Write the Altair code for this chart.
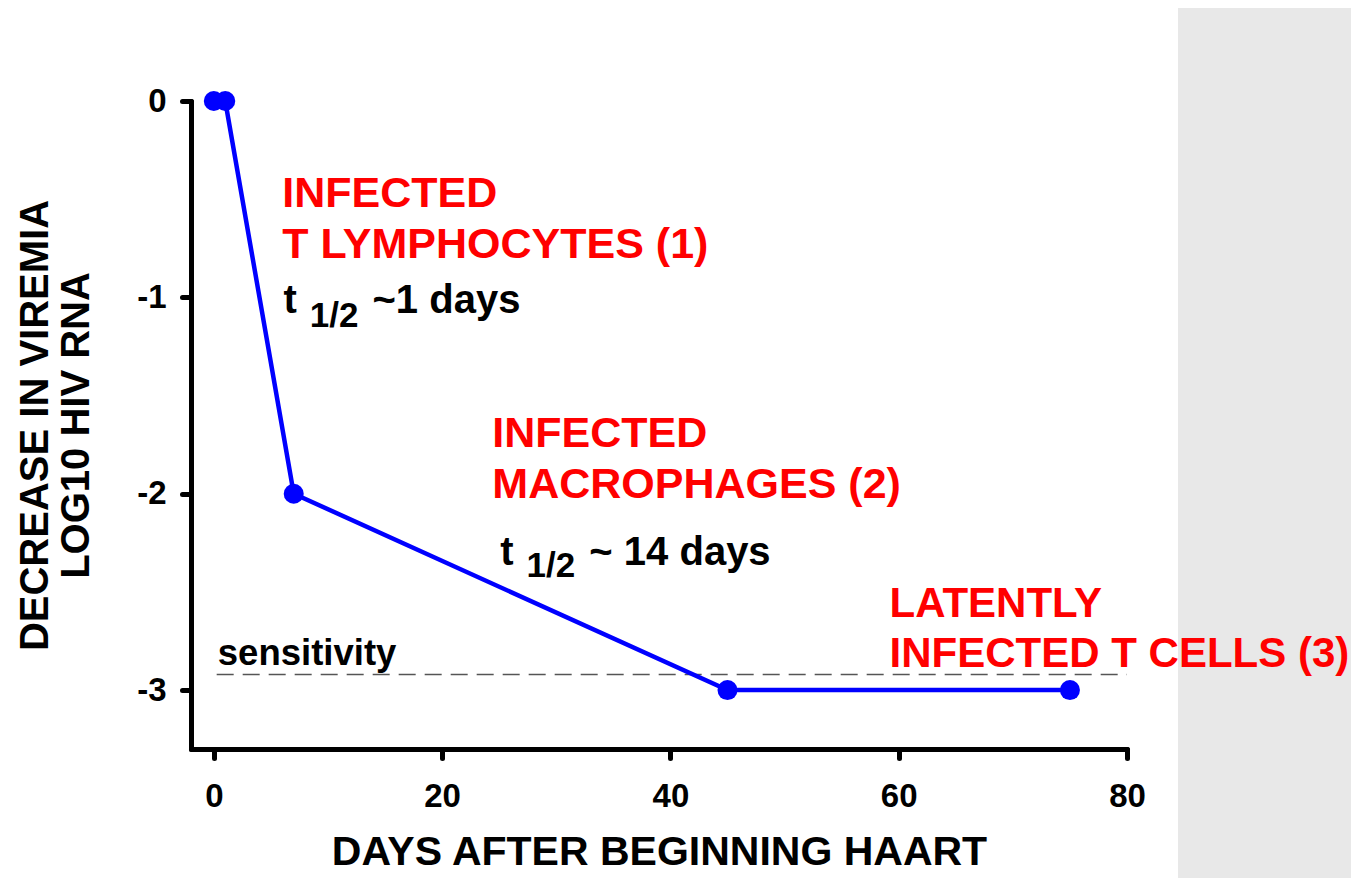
import altair as alt
import pandas as pd

# ---- data -------------------------------------------------------------
days = [0, 1, 7, 45, 75]
log_decrease = [0, 0, -2, -3, -3]

sens_level = -2.92
sens_start = 0.25
sens_end = 80

x_ticks = [0, 20, 40, 60, 80]
y_ticks = [0, -1, -2, -3]

phase_text = ["INFECTED", "T LYMPHOCYTES (1)", "INFECTED", "MACROPHAGES (2)",
              "LATENTLY", "INFECTED T CELLS (3)"]
phase_x = [6.0, 6.0, 24.4, 24.4, 59.2, 59.2]
phase_y = [-0.54, -0.80, -1.76, -2.02, -2.63, -2.88]
phase_size = [43, 43, 43, 43, 42, 42]

half_t_x = [6.1, 25.1]
half_t_y = [-1.08, -2.364]
half_sub_text = ["1/2", "1/2"]
half_sub_x = [8.4, 27.4]
half_sub_y = [-1.151, -2.425]
half_rest_text = ["~1 days", "~ 14 days"]
half_rest_x = [13.9, 32.9]
half_rest_y = [-1.08, -2.364]

sens_label = "sensitivity"
sens_label_x = 0.35
sens_label_y = -2.873

FONT = "Liberation Sans"

xscale = alt.Scale(domain=[-2, 80], nice=False, zero=False)
yscale = alt.Scale(domain=[-3.3, 0], nice=False, zero=False)

series = pd.DataFrame({"day": days, "value": log_decrease})

# white panel behind the plot
panel = alt.Chart(alt.Data(values=[{}])).mark_rect(color="white").encode(
    x=alt.value(-183), x2=alt.value(987), y=alt.value(-120), y2=alt.value(800)
)

line = alt.Chart(series).mark_line(color="#0000ff", strokeWidth=4.5).encode(
    x=alt.X("day:Q", scale=xscale,
            axis=alt.Axis(values=x_ticks, title="DAYS AFTER BEGINNING HAART",
                          labelFlush=False,
                          titlePadding=19, titleFontSize=41, zindex=1)),
    y=alt.Y("value:Q", scale=yscale,
            axis=alt.Axis(values=y_ticks,
                          title=["DECREASE IN VIREMIA", "LOG10 HIV RNA"],
                          titlePadding=40, zindex=1,
                          labelExpr="datum.value < 0 ? '-' + abs(datum.value) : '' + datum.value")),
)

points = alt.Chart(series).mark_circle(color="#0000ff", opacity=1, size=400).encode(
    x="day:Q", y="value:Q"
)

sens_df = pd.DataFrame({"day": [sens_start], "day2": [sens_end], "value": [sens_level]})
sens_rule = alt.Chart(sens_df).mark_rule(color="#555555", strokeWidth=1.5,
                                         strokeDash=[17, 9]).encode(
    x="day:Q", x2="day2:Q", y="value:Q"
)

sens_text_df = pd.DataFrame({"day": [sens_label_x], "value": [sens_label_y], "t": [sens_label]})
sens_text = alt.Chart(sens_text_df).mark_text(
    align="left", baseline="alphabetic", font=FONT, fontWeight="bold",
    fontSize=36.5, color="black").encode(x="day:Q", y="value:Q", text="t:N")

phase_df = pd.DataFrame({"day": phase_x, "value": phase_y, "t": phase_text, "s": phase_size})
phase = alt.Chart(phase_df).mark_text(
    align="left", baseline="alphabetic", font=FONT, fontWeight="bold",
    color="#ff0000").encode(x="day:Q", y="value:Q", text="t:N",
                            size=alt.Size("s:Q", scale=None, legend=None))

t_df = pd.DataFrame({"day": half_t_x, "value": half_t_y, "t": ["t", "t"]})
t_text = alt.Chart(t_df).mark_text(
    align="left", baseline="alphabetic", font=FONT, fontWeight="bold",
    fontSize=40, color="black").encode(x="day:Q", y="value:Q", text="t:N")

sub_df = pd.DataFrame({"day": half_sub_x, "value": half_sub_y, "t": half_sub_text})
sub_text = alt.Chart(sub_df).mark_text(
    align="left", baseline="alphabetic", font=FONT, fontWeight="bold",
    fontSize=35, color="black").encode(x="day:Q", y="value:Q", text="t:N")

rest_df = pd.DataFrame({"day": half_rest_x, "value": half_rest_y, "t": half_rest_text})
rest_text = alt.Chart(rest_df).mark_text(
    align="left", baseline="alphabetic", font=FONT, fontWeight="bold",
    fontSize=40, color="black").encode(x="day:Q", y="value:Q", text="t:N")

chart = alt.layer(
    panel, sens_rule, line, points, sens_text, phase, t_text, sub_text, rest_text
).properties(
    width=936, height=648,
    autosize=alt.AutoSizeParams(type="none"),
    padding={"left": 183, "top": 93, "right": 224, "bottom": 129},
    background="#e8e8e8",
).configure_view(stroke=None).configure_axis(
    grid=False,
    domainColor="black", domainWidth=5, domainCap="round",
    tickColor="black", tickWidth=5, tickSize=9, tickCap="round",
    labelFont=FONT, labelFontWeight="bold", labelFontSize=33, labelColor="black",
    labelPadding=16,
    titleFont=FONT, titleFontWeight="bold", titleFontSize=40, titleColor="black",
    titleLineHeight=41,
).configure_axisX(labelPadding=22)

chart.save("out.html", embed_options={"renderer": "svg", "actions": False})
